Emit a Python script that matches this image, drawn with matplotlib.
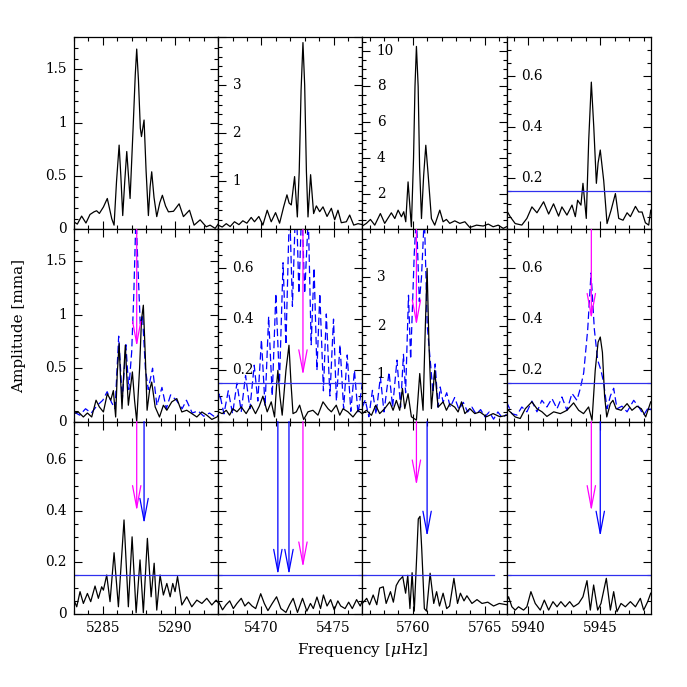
import matplotlib
matplotlib.use('Agg')
import matplotlib.pyplot as plt
from matplotlib.ticker import MultipleLocator, NullFormatter
import matplotlib.transforms as mtransforms

plt.rcParams['font.family'] = ['DejaVu Serif']
plt.rcParams['mathtext.fontset'] = 'dejavuserif'

# ---------------- data (frequency in microHz, amplitude in mma) ----------------
# Row 1
f_r1c1 = [5283.0, 5283.23, 5283.53, 5283.83, 5284.11, 5284.39, 5284.57, 5284.76, 5285.04, 5285.31,
          5285.62, 5285.78, 5285.95, 5286.13, 5286.25, 5286.38, 5286.52, 5286.66, 5286.78, 5286.89,
          5287.1, 5287.25, 5287.35, 5287.47, 5287.6, 5287.68, 5287.86, 5288.0, 5288.16, 5288.28,
          5288.39, 5288.55, 5288.74, 5288.95, 5289.13, 5289.35, 5289.55, 5289.9, 5290.29, 5290.59,
          5291.01, 5291.33, 5291.75, 5292.17, 5292.44, 5292.79, 5293.0]
a_r1c1 = [0.07, 0.05, 0.125, 0.06, 0.14, 0.165, 0.175, 0.15, 0.21, 0.29,
          0.10, 0.04, 0.45, 0.79, 0.5, 0.13, 0.45, 0.73, 0.5, 0.29,
          0.95, 1.45, 1.69, 1.4, 0.95, 0.87, 1.025, 0.55, 0.13, 0.4,
          0.54, 0.3, 0.12, 0.25, 0.32, 0.22, 0.165, 0.17, 0.24, 0.12,
          0.18, 0.04, 0.09, 0.025, 0.04, 0.01, 0.05]

f_r1c2 = [5467.0, 5467.28, 5467.56, 5467.83, 5468.13, 5468.44, 5468.71, 5468.99, 5469.29, 5469.52,
          5469.82, 5470.1, 5470.4, 5470.68, 5470.98, 5471.26, 5471.54, 5471.77, 5471.92, 5472.07,
          5472.3, 5472.49, 5472.62, 5472.75, 5472.88, 5473.0, 5473.12, 5473.23, 5473.41, 5473.62,
          5473.81, 5474.04, 5474.27, 5474.55, 5474.85, 5475.08, 5475.31, 5475.54, 5475.89, 5476.12,
          5476.4, 5476.7, 5477.0]
a_r1c2 = [0.09, 0.05, 0.12, 0.06, 0.16, 0.10, 0.18, 0.13, 0.25, 0.16,
          0.27, 0.09, 0.40, 0.16, 0.35, 0.13, 0.47, 0.72, 0.55, 0.51,
          1.10, 0.26, 1.2, 2.9, 3.89, 3.0, 1.2, 0.26, 1.14, 0.33,
          0.49, 0.37, 0.47, 0.27, 0.44, 0.20, 0.40, 0.14, 0.16, 0.30,
          0.09, 0.12, 0.10]

f_r1c3 = [5756.5, 5756.78, 5757.06, 5757.36, 5757.75, 5758.05, 5758.51, 5758.75, 5758.98, 5759.21,
          5759.37, 5759.51, 5759.67, 5759.9, 5760.05, 5760.15, 5760.25, 5760.37, 5760.47, 5760.6,
          5760.75, 5760.9, 5761.05, 5761.29, 5761.52, 5761.87, 5762.1, 5762.33, 5762.56, 5762.91,
          5763.26, 5763.61, 5763.95, 5764.42, 5764.88, 5765.23, 5765.57, 5765.92, 5766.27, 5766.5]
a_r1c3 = [0.19, 0.34, 0.56, 0.24, 0.89, 0.34, 0.93, 0.61, 1.08, 0.71,
          0.99, 0.43, 2.66, 0.15, 4.0, 8.0, 10.24, 8.0, 3.5, 0.61,
          3.0, 4.71, 3.2, 0.61, 0.24, 1.08, 0.43, 0.56, 0.34, 0.48,
          0.34, 0.43, 0.11, 0.24, 0.19, 0.30, 0.15, 0.24, 0.06, 0.15]

f_r1c4 = [5938.5, 5938.75, 5939.1, 5939.56, 5939.91, 5940.26, 5940.61, 5941.07, 5941.42, 5941.76,
          5942.11, 5942.34, 5942.69, 5943.04, 5943.27, 5943.43, 5943.66, 5943.8, 5944.03, 5944.2,
          5944.38, 5944.55, 5944.73, 5944.85, 5945.0, 5945.12, 5945.24, 5945.47, 5945.75, 5946.05,
          5946.28, 5946.58, 5946.86, 5947.09, 5947.44, 5947.67, 5947.9, 5948.13, 5948.36, 5948.5]
a_r1c4 = [0.075, 0.05, 0.023, 0.017, 0.043, 0.088, 0.065, 0.108, 0.06, 0.10,
          0.052, 0.088, 0.056, 0.095, 0.05, 0.114, 0.095, 0.18, 0.043, 0.35,
          0.575, 0.4, 0.18, 0.26, 0.31, 0.25, 0.19, 0.023, 0.075, 0.14,
          0.043, 0.036, 0.065, 0.05, 0.09, 0.068, 0.068, 0.026, 0.017, 0.075]

# Row 2 (black = solid, dashed = blue comparison spectrum)
f_r2c1 = [5283.0, 5283.3, 5283.65, 5283.93, 5284.23, 5284.53, 5284.76, 5285.04, 5285.31, 5285.55,
          5285.73, 5285.89, 5286.0, 5286.13, 5286.23, 5286.33, 5286.45, 5286.56, 5286.67, 5286.77,
          5287.05, 5287.2, 5287.35, 5287.55, 5287.68, 5287.81, 5287.95, 5288.07, 5288.25, 5288.39,
          5288.63, 5288.93, 5289.2, 5289.44, 5289.78, 5290.13, 5290.48, 5290.82, 5291.17, 5291.52,
          5291.87, 5292.21, 5292.56, 5292.91, 5293.0]
a_r2c1 = [0.075, 0.09, 0.043, 0.08, 0.043, 0.2, 0.137, 0.09, 0.26, 0.2,
          0.29, 0.043, 0.45, 0.73, 0.4, 0.12, 0.45, 0.715, 0.4, 0.153,
          0.465, 0.2, 0.003, 0.5, 0.95, 1.09, 0.6, 0.106, 0.3, 0.37,
          0.137, 0.043, 0.153, 0.106, 0.184, 0.215, 0.09, 0.106, 0.075, 0.043,
          0.09, 0.06, 0.02, 0.043, 0.05]
fd_r2c1 = [5283.0, 5283.4, 5283.8, 5284.2, 5284.6, 5285.0, 5285.3, 5285.6, 5285.85, 5286.1,
           5286.35, 5286.6, 5286.8, 5287.0, 5287.15, 5287.3, 5287.45, 5287.6, 5287.75, 5287.95,
           5288.15, 5288.45, 5288.75, 5289.1, 5289.4, 5289.7, 5290.1, 5290.5, 5290.8, 5291.2,
           5291.6, 5292.0, 5292.4, 5292.8, 5293.0]
ad_r2c1 = [0.09, 0.06, 0.12, 0.08, 0.15, 0.2, 0.28, 0.18, 0.12, 0.8,
           0.2, 0.72, 0.3, 0.65, 1.2, 1.95, 1.4, 0.9, 1.0, 0.5,
           0.3, 0.5, 0.15, 0.32, 0.12, 0.25, 0.2, 0.12, 0.2, 0.08,
           0.1, 0.05, 0.08, 0.04, 0.06]

f_r2c2 = [5467.0, 5467.28, 5467.56, 5467.79, 5468.02, 5468.3, 5468.6, 5468.94, 5469.29, 5469.59,
          5469.85, 5470.1, 5470.4, 5470.68, 5470.91, 5471.05, 5471.14, 5471.28, 5471.44, 5471.7,
          5471.91, 5472.05, 5472.19, 5472.42, 5472.65, 5472.93, 5473.23, 5473.57, 5473.92, 5474.27,
          5474.62, 5474.85, 5475.19, 5475.43, 5475.66, 5476.0, 5476.35, 5476.7, 5477.0]
a_r2c2 = [0.038, 0.031, 0.044, 0.025, 0.05, 0.038, 0.057, 0.031, 0.064, 0.031,
          0.06, 0.099, 0.038, 0.077, 0.018, 0.14, 0.2, 0.1, 0.025, 0.2,
          0.298, 0.15, 0.031, 0.038, 0.064, 0.008, 0.038, 0.044, 0.025, 0.077,
          0.05, 0.038, 0.064, 0.025, 0.05, 0.038, 0.018, 0.044, 0.03]
fd_r2c2 = [5467.0, 5467.1, 5467.4, 5467.7, 5468.0, 5468.3, 5468.6, 5468.9, 5469.2, 5469.5,
           5469.75, 5470.0, 5470.25, 5470.5, 5470.75, 5471.0, 5471.25, 5471.5, 5471.7, 5471.95,
           5472.15, 5472.4, 5472.6, 5472.8, 5473.0, 5473.25, 5473.45, 5473.65, 5473.85, 5474.05,
           5474.3, 5474.5, 5474.75, 5475.0, 5475.2, 5475.45, 5475.7, 5475.95, 5476.2, 5476.45,
           5476.7, 5477.0]
ad_r2c2 = [0.08, 0.11, 0.03, 0.12, 0.03, 0.15, 0.04, 0.18, 0.05, 0.22,
           0.08, 0.32, 0.06, 0.41, 0.1, 0.5, 0.15, 0.62, 0.3, 0.85,
           0.45, 0.9, 0.5, 0.85, 0.5, 0.8, 0.3, 0.6, 0.2, 0.5,
           0.12, 0.42, 0.1, 0.4, 0.08, 0.3, 0.05, 0.26, 0.04, 0.2,
           0.03, 0.15]

f_r2c3 = [5756.5, 5756.78, 5757.13, 5757.43, 5757.7, 5758.05, 5758.4, 5758.63, 5758.86, 5759.09,
          5759.28, 5759.44, 5759.67, 5759.9, 5760.25, 5760.48, 5760.71, 5760.85, 5760.99, 5761.12,
          5761.29, 5761.52, 5761.75, 5762.1, 5762.33, 5762.56, 5762.91, 5763.14, 5763.38, 5763.61,
          5763.95, 5764.3, 5764.65, 5765.11, 5765.57, 5766.04, 5766.5]
a_r2c3 = [0.166, 0.235, 0.13, 0.34, 0.166, 0.27, 0.41, 0.235, 0.44, 0.235,
          0.69, 0.27, 0.58, 0.1, 0.03, 1.0, 0.235, 1.8, 3.19, 1.6,
          0.27, 1.07, 0.3, 0.41, 0.235, 0.37, 0.3, 0.2, 0.41, 0.166,
          0.27, 0.166, 0.2, 0.1, 0.166, 0.1, 0.13]
fd_r2c3 = [5756.5, 5756.7, 5756.95, 5757.2, 5757.45, 5757.75, 5758.0, 5758.35, 5758.6, 5758.9,
           5759.15, 5759.35, 5759.5, 5759.7, 5759.85, 5760.1, 5760.25, 5760.45, 5760.6, 5760.8,
           5761.0, 5761.2, 5761.4, 5761.55, 5761.75, 5761.9, 5762.1, 5762.35, 5762.6, 5762.9,
           5763.2, 5763.5, 5763.8, 5764.1, 5764.4, 5764.7, 5765.0, 5765.3, 5765.6, 5765.9,
           5766.2, 5766.5]
ad_r2c3 = [0.3, 0.45, 0.1, 0.65, 0.15, 0.93, 0.2, 1.03, 0.3, 1.28,
           0.3, 1.4, 0.6, 2.63, 1.3, 3.5, 4.3, 2.5, 3.0, 4.3,
           2.0, 1.3, 0.6, 1.2, 0.3, 0.72, 0.4, 0.6, 0.3, 0.5,
           0.25, 0.4, 0.2, 0.3, 0.15, 0.25, 0.1, 0.2, 0.05, 0.2,
           0.08, 0.15]

f_r2c4 = [5938.5, 5938.75, 5939.1, 5939.45, 5939.8, 5940.26, 5940.61, 5940.96, 5941.3, 5941.77,
          5942.23, 5942.69, 5943.15, 5943.5, 5943.84, 5944.19, 5944.43, 5944.65, 5944.85, 5945.0,
          5945.15, 5945.3, 5945.45, 5945.7, 5945.88, 5946.1, 5946.45, 5946.86, 5947.2, 5947.55,
          5947.85, 5948.15, 5948.5]
a_r2c4 = [0.05, 0.038, 0.018, 0.012, 0.05, 0.077, 0.05, 0.038, 0.02, 0.038,
          0.031, 0.044, 0.073, 0.044, 0.031, 0.057, 0.005, 0.2, 0.31, 0.33,
          0.27, 0.1, 0.018, 0.07, 0.083, 0.05, 0.044, 0.07, 0.044, 0.06,
          0.05, 0.018, 0.077]
fd_r2c4 = [5938.5, 5938.87, 5939.22, 5939.56, 5939.91, 5940.26, 5940.61, 5940.95, 5941.3, 5941.65,
           5942.0, 5942.34, 5942.69, 5943.04, 5943.38, 5943.62, 5943.85, 5944.13, 5944.36, 5944.59,
           5944.82, 5945.05, 5945.24, 5945.47, 5945.7, 5945.93, 5946.16, 5946.5, 5946.86, 5947.32,
           5947.67, 5948.01, 5948.36, 5948.5]
ad_r2c4 = [0.077, 0.031, 0.025, 0.057, 0.038, 0.08, 0.038, 0.083, 0.057, 0.09,
           0.05, 0.096, 0.044, 0.11, 0.083, 0.13, 0.19, 0.36, 0.58, 0.36,
           0.24, 0.2, 0.15, 0.05, 0.1, 0.13, 0.05, 0.06, 0.038, 0.083,
           0.057, 0.025, 0.057, 0.045]

# Row 3
f_r3c1 = [5283.0, 5283.19, 5283.42, 5283.65, 5283.93, 5284.16, 5284.46, 5284.69, 5284.92, 5285.04,
          5285.27, 5285.5, 5285.78, 5286.08, 5286.47, 5286.77, 5287.03, 5287.31, 5287.58, 5287.81,
          5288.09, 5288.35, 5288.56, 5288.74, 5288.97, 5289.2, 5289.44, 5289.67, 5289.85, 5290.01,
          5290.18, 5290.48, 5290.82, 5291.17, 5291.52, 5291.87, 5292.21, 5292.56, 5292.86, 5293.0]
a_r3c1 = [0.053, 0.027, 0.086, 0.04, 0.079, 0.047, 0.108, 0.06, 0.105, 0.092,
          0.151, 0.047, 0.238, 0.027, 0.366, 0.027, 0.30, 0.004, 0.21, 0.004,
          0.294, 0.066, 0.197, 0.014, 0.151, 0.073, 0.118, 0.066, 0.118, 0.086,
          0.145, 0.034, 0.066, 0.027, 0.053, 0.04, 0.06, 0.034, 0.053, 0.043]

f_r3c2 = [5467.0, 5467.3, 5467.55, 5467.8, 5468.05, 5468.3, 5468.6, 5468.85, 5469.1, 5469.35,
          5469.6, 5469.95, 5470.2, 5470.45, 5470.75, 5471.05, 5471.35, 5471.7, 5471.95, 5472.2,
          5472.5, 5472.85, 5473.15, 5473.4, 5473.6, 5473.85, 5474.1, 5474.3, 5474.55, 5474.8,
          5475.05, 5475.3, 5475.5, 5475.8, 5476.05, 5476.3, 5476.6, 5476.85, 5477.0]
a_r3c2 = [0.05, 0.015, 0.035, 0.05, 0.02, 0.04, 0.06, 0.03, 0.045, 0.03,
          0.02, 0.078, 0.04, 0.012, 0.04, 0.066, 0.02, 0.005, 0.035, 0.06,
          0.005, 0.06, 0.01, 0.04, 0.02, 0.065, 0.02, 0.073, 0.03, 0.055,
          0.015, 0.05, 0.03, 0.02, 0.045, 0.02, 0.055, 0.03, 0.05]

f_r3c3 = [5756.5, 5756.8, 5757.0, 5757.25, 5757.5, 5757.7, 5757.95, 5758.15, 5758.45, 5758.65,
          5758.85, 5759.05, 5759.3, 5759.5, 5759.65, 5759.8, 5759.95, 5760.1, 5760.25, 5760.38,
          5760.5, 5760.62, 5760.8, 5760.95, 5761.2, 5761.45, 5761.65, 5761.85, 5762.1, 5762.35,
          5762.55, 5762.85, 5763.1, 5763.3, 5763.55, 5763.75, 5764.1, 5764.45, 5764.8, 5765.2,
          5765.6, 5766.0, 5766.5]
a_r3c3 = [0.04, 0.06, 0.035, 0.073, 0.035, 0.1, 0.105, 0.04, 0.086, 0.045,
          0.11, 0.13, 0.145, 0.08, 0.15, 0.02, 0.16, 0.01, 0.2, 0.37,
          0.38, 0.25, 0.02, 0.01, 0.158, 0.04, 0.086, 0.03, 0.08, 0.02,
          0.03, 0.138, 0.04, 0.08, 0.05, 0.07, 0.04, 0.055, 0.04, 0.045,
          0.03, 0.04, 0.035]

f_r3c4 = [5938.5, 5938.64, 5938.87, 5939.1, 5939.33, 5939.68, 5939.91, 5940.19, 5940.49, 5940.84,
          5941.12, 5941.42, 5941.72, 5942.0, 5942.27, 5942.57, 5942.88, 5943.15, 5943.5, 5943.8,
          5944.08, 5944.31, 5944.54, 5944.82, 5945.05, 5945.42, 5945.7, 5945.93, 5946.16, 5946.44,
          5946.74, 5947.09, 5947.44, 5947.78, 5948.01, 5948.29, 5948.5]
a_r3c4 = [0.047, 0.066, 0.027, 0.014, 0.027, 0.014, 0.027, 0.086, 0.04, 0.014,
          0.053, 0.014, 0.047, 0.027, 0.047, 0.027, 0.047, 0.027, 0.04, 0.066,
          0.129, 0.014, 0.112, 0.014, 0.04, 0.138, 0.014, 0.086, 0.008, 0.04,
          0.027, 0.047, 0.027, 0.06, 0.014, 0.047, 0.08]

# Arrow markers: (frequency, tip amplitude, colour)
arrows_r2 = [[(5287.35, 0.70, 'm')], [(5472.88, 0.18, 'm')],
             [(5760.25, 2.0, 'm')], [(5944.38, 0.40, 'm')]]
arrows_r3 = [[(5287.35, 0.40, 'm'), (5287.86, 0.35, 'b')],
             [(5471.14, 0.151, 'b'), (5471.91, 0.151, 'b'), (5472.88, 0.18, 'm')],
             [(5760.25, 0.50, 'm'), (5760.99, 0.30, 'b')],
             [(5944.38, 0.40, 'm'), (5945.0, 0.30, 'b')]]

noise_level = 0.15

x_ranges = [(5283, 5293), (5467, 5477), (5756.5, 5766.5), (5938.5, 5948.5)]
x_ticklabels = [[5285, 5290], [5470, 5475], [5760, 5765], [5940, 5945]]
y_tops = [[1.8, 4.0, 10.75, 0.75], [1.8, 0.75, 4.0, 0.75], [0.75, 0.75, 0.75, 0.75]]
y_major = [[0.5, 1, 2, 0.2], [0.5, 0.2, 1, 0.2], [0.2, 0.2, 0.2, 0.2]]
y_minor = [[0.1, 0.2, 0.5, 0.05], [0.1, 0.05, 0.2, 0.05], [0.05, 0.05, 0.05, 0.05]]
left_labels = [['0', '0.5', '1', '1.5'], ['0', '0.5', '1', '1.5'], ['0', '0.2', '0.4', '0.6']]
inner_labels = [[None, ['1', '2', '3'], ['2', '4', '6', '8', '10'], ['0.2', '0.4', '0.6']],
                [None, ['0.2', '0.4', '0.6'], ['1', '2', '3'], ['0.2', '0.4', '0.6']],
                [None, [], [], []]]
noise_panels = {(0, 3): None, (1, 1): None, (1, 3): None,
                (2, 0): None, (2, 1): None, (2, 2): 5765.6, (2, 3): None}

black = [[(f_r1c1, a_r1c1), (f_r1c2, a_r1c2), (f_r1c3, a_r1c3), (f_r1c4, a_r1c4)],
         [(f_r2c1, a_r2c1), (f_r2c2, a_r2c2), (f_r2c3, a_r2c3), (f_r2c4, a_r2c4)],
         [(f_r3c1, a_r3c1), (f_r3c2, a_r3c2), (f_r3c3, a_r3c3), (f_r3c4, a_r3c4)]]
dashed = [(fd_r2c1, ad_r2c1), (fd_r2c2, ad_r2c2), (fd_r2c3, ad_r2c3), (fd_r2c4, ad_r2c4)]

MAG = '#ff00ff'
BLU = '#0000ff'
LINE_BLU = '#3030ee'
FS = 9.8

fig = plt.figure(figsize=(6.87, 6.87), dpi=100)
gs = fig.add_gridspec(3, 4, left=0.1077, right=0.9472, bottom=0.1067, top=0.9457,
                      wspace=0, hspace=0)

for r in range(3):
    for c in range(4):
        ax = fig.add_subplot(gs[r, c])
        x0, x1 = x_ranges[c]
        ytop = y_tops[r][c]
        ax.set_xlim(x0, x1)
        ax.set_ylim(0, ytop)

        if r == 1:
            fd, ad = dashed[c]
            ax.plot(fd, ad, color=BLU, lw=0.9, linestyle=(0, (6, 3)))
        fb, ab = black[r][c]
        ax.plot(fb, ab, color='black', lw=0.9)

        if (r, c) in noise_panels:
            xe = noise_panels[(r, c)]
            if xe is None:
                ax.axhline(noise_level, color=LINE_BLU, lw=0.9)
            else:
                ax.plot([x0, xe], [noise_level, noise_level], color=LINE_BLU, lw=0.9)

        arrs = arrows_r2[c] if r == 1 else (arrows_r3[c] if r == 2 else [])
        for (fa, tip, col) in arrs:
            color = MAG if col == 'm' else BLU
            ax.annotate('', xy=(fa, tip), xytext=(fa, ytop),
                        arrowprops=dict(arrowstyle='->,head_length=1.6,head_width=0.3',
                                        color=color, lw=0.9, shrinkA=0, shrinkB=0,
                                        mutation_scale=10),
                        annotation_clip=False)

        ax.xaxis.set_major_locator(MultipleLocator(5))
        ax.xaxis.set_minor_locator(MultipleLocator(1))
        ax.yaxis.set_major_locator(MultipleLocator(y_major[r][c]))
        ax.yaxis.set_minor_locator(MultipleLocator(y_minor[r][c]))
        ax.tick_params(which='both', direction='in', top=True, right=True,
                       labelsize=FS, width=0.8)
        ax.tick_params(which='major', length=5.5)
        ax.tick_params(which='minor', length=2.8)
        for sp in ax.spines.values():
            sp.set_linewidth(0.9)

        if r == 2:
            ax.set_xticks(x_ticklabels[c])
            ax.set_xticklabels([str(v) for v in x_ticklabels[c]])
            ax.tick_params(axis='x', pad=5)
        else:
            ax.xaxis.set_major_formatter(NullFormatter())

        ax.yaxis.set_major_formatter(NullFormatter())
        trans = mtransforms.blended_transform_factory(ax.transAxes, ax.transData)
        if c == 0:
            for s in left_labels[r]:
                ax.text(-0.05, float(s), s, transform=trans, ha='right', va='center',
                        fontsize=FS)
        else:
            for s in inner_labels[r][c]:
                ax.text(0.10, float(s), s, transform=trans, ha='left', va='center',
                        fontsize=FS)

fig.text(0.028, 0.526, 'Amplitude [mma]', rotation=90, ha='center', va='center', fontsize=11)
fig.text(0.5275, 0.054, r'Frequency [$\mu$Hz]', ha='center', va='center', fontsize=11)

fig.savefig('out.png', dpi=100)
